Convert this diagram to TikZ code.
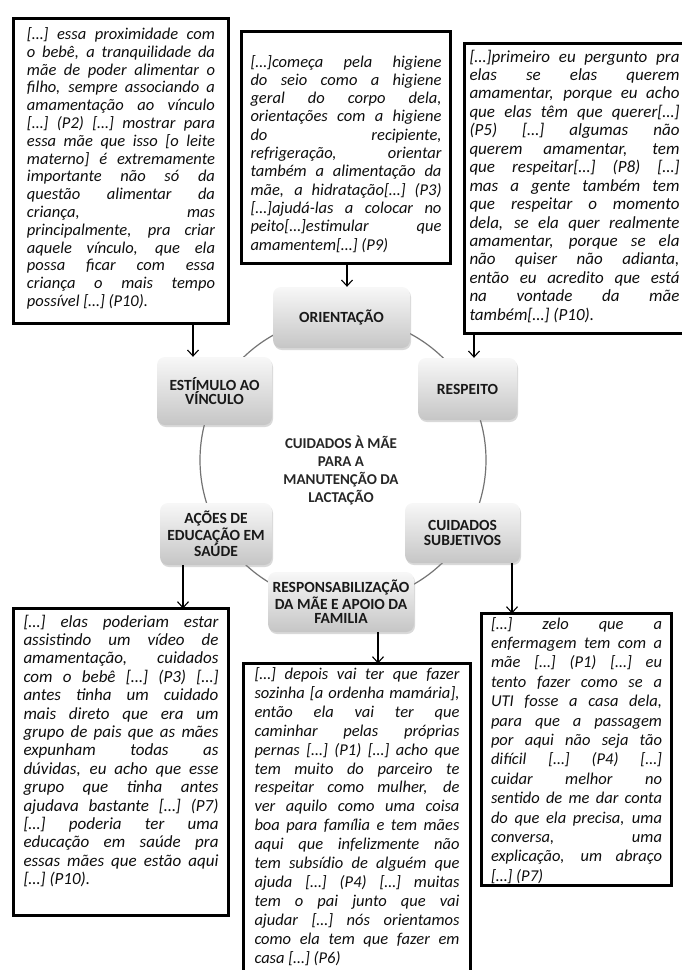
\documentclass[tikz,border=0pt]{standalone}
\usepackage{fontspec}
\setmainfont{Carlito}
\usetikzlibrary{arrows,arrows.meta,shadows,calc}
\tolerance=10000
\hbadness=10000

\newcommand{\qsize}[2]{\itshape\fontsize{#1}{#2}\selectfont}
\newcommand{\qbr}{\linebreak\relax}

\tikzset{
  quote/.style={draw, line width=3pt, outer sep=0pt, inner ysep=0pt, anchor=north west, align=justify, text=black!95},
  topic/.style={rounded corners=8pt, top color=gray!6, bottom color=gray!45,
    drop shadow={shadow xshift=1pt,shadow yshift=-2pt,opacity=0.3},
    align=center, inner sep=2pt, text=black!90, font=\bfseries\fontsize{15.5}{14.5}\selectfont},
  arr/.style={-{Straight Barb[length=6pt,width=11pt]}, line width=1.1pt},
  ring/.style={black!55, line width=1.2pt}
}

\begin{document}
\begin{tikzpicture}[x=1pt,y=-1pt]
\useasboundingbox (0,0) rectangle (681,970);

\draw[ring] (343,460) circle [radius=143pt];

\node[topic, minimum width=137pt, minimum height=61pt] (ori) at (341.5,317.5) {ORIENTAÇÃO};
\node[topic, minimum width=99pt, minimum height=62pt] (res) at (467.5,389) {RESPEITO};
\node[topic, minimum width=115pt, minimum height=68pt] (est) at (214.5,391) {ESTÍMULO AO\\VÍNCULO};
\node[topic, minimum width=112pt, minimum height=62pt] (acoes) at (216,534) {AÇÕES DE\\EDUCAÇÃO EM\\SAÚDE};
\node[topic, minimum width=115pt, minimum height=60pt] (cui) at (462.5,533) {CUIDADOS\\SUBJETIVOS};
\node[topic, minimum width=146pt, minimum height=60pt] (resp) at (341,602) {RESPONSABILIZAÇÃO\\DA MÃE E APOIO DA\\FAMILIA};
\node[align=center, text=black!85, font=\bfseries\fontsize{15}{18}\selectfont] (mid) at (341,470)
  {CUIDADOS À MÃE\\PARA A\\MANUTENÇÃO DA\\LACTAÇÃO};

\node[quote, text width=188pt, inner xsep=13.5pt, text height=21pt, text depth=284pt, font=\qsize{16.5}{17.8}] (q1) at (13.5,18.5)
  {[…] essa proximidade com\qbr
   o bebê, a tranquilidade da\qbr
   mãe de poder alimentar o\qbr
   filho, sempre associando a\qbr
   amamentação ao vínculo\qbr
   […] (P2) […] mostrar para\qbr
   essa mãe que isso [o leite\qbr
   materno] é extremamente\qbr
   importante não só da\qbr
   questão alimentar da\qbr
   criança, mas\qbr
   principalmente, pra criar\qbr
   aquele vínculo, que ela\qbr
   possa ficar com essa\qbr
   criança o mais tempo\qbr
   possível […] (P10).};

\node[quote, text width=191pt, inner xsep=9pt, text height=35.5pt, text depth=196.5pt, font=\qsize{16.5}{18.3}] (q2) at (241.5,31.5)
  {[…]começa pela higiene\qbr
   do seio como a higiene\qbr
   geral do corpo dela,\qbr
   orientações com a higiene\qbr
   do recipiente,\qbr
   refrigeração, orientar\qbr
   também a alimentação da\qbr
   mãe, a hidratação[…] (P3)\qbr
   […]ajudá-las a colocar no\qbr
   peito[…]estimular que\qbr
   amamentem[…] (P9)};

\node[quote, text width=210pt, inner xsep=5pt, text height=18.5pt, text depth=271.5pt, font=\qsize{17}{18.45}] (q3) at (464.5,43.5)
  {[…]primeiro eu pergunto pra\qbr
   elas se elas querem\qbr
   amamentar, porque eu acho\qbr
   que elas têm que querer[…]\qbr
   (P5) […] algumas não\qbr
   querem amamentar, tem\qbr
   que respeitar[…] (P8) […]\qbr
   mas a gente também tem\qbr
   que respeitar o momento\qbr
   dela, se ela quer realmente\qbr
   amamentar, porque se ela\qbr
   não quiser não adianta,\qbr
   então eu acredito que está\qbr
   na vontade da mãe\qbr
   também[…] (P10).};

\node[quote, text width=195pt, inner xsep=10pt, text height=18.5pt, text depth=288.5pt, font=\qsize{17}{18.4}] (q4) at (13.5,608.5)
  {[…] elas poderiam estar\qbr
   assistindo um vídeo de\qbr
   amamentação, cuidados\qbr
   com o bebê […] (P3) […]\qbr
   antes tinha um cuidado\qbr
   mais direto que era um\qbr
   grupo de pais que as mães\qbr
   expunham todas as\qbr
   dúvidas, eu acho que esse\qbr
   grupo que tinha antes\qbr
   ajudava bastante […] (P7)\qbr
   […] poderia ter uma\qbr
   educação em saúde pra\qbr
   essas mães que estão aqui\qbr
   […] (P10).};

\node[quote, text width=205pt, inner xsep=11pt, text height=16pt, text depth=299pt, font=\qsize{16.5}{18.9}] (q5) at (243.5,663.5)
  {[…] depois vai ter que fazer\qbr
   sozinha [a ordenha mamária],\qbr
   então ela vai ter que\qbr
   caminhar pelas próprias\qbr
   pernas […] (P1) […] acho que\qbr
   tem muito do parceiro te\qbr
   respeitar como mulher, de\qbr
   ver aquilo como uma coisa\qbr
   boa para família e tem mães\qbr
   aqui que infelizmente não\qbr
   tem subsídio de alguém que\qbr
   ajuda […] (P4) […] muitas\qbr
   tem o pai junto que vai\qbr
   ajudar […] nós orientamos\qbr
   como ela tem que fazer em\qbr
   casa […] (P6)};

\node[quote, text width=171pt, inner xsep=9.5pt, text height=15.5pt, text depth=256.5pt, font=\qsize{16.5}{19.4}] (q6) at (481.5,613.5)
  {[…] zelo que a\qbr
   enfermagem tem com a\qbr
   mãe […] (P1) […] eu\qbr
   tento fazer como se a\qbr
   UTI fosse a casa dela,\qbr
   para que a passagem\qbr
   por aqui não seja tão\qbr
   difícil […] (P4) […]\qbr
   cuidar melhor no\qbr
   sentido de me dar conta\qbr
   do que ela precisa, uma\qbr
   conversa, uma\qbr
   explicação, um abraço\qbr
   […] (P7)};

\draw[arr] ([xshift=-21.5pt]est.north |- q1.south) -- ([xshift=-21.5pt]est.north);
\draw[arr] ([xshift=5.5pt]ori.north |- q2.south) -- ([xshift=5.5pt]ori.north);
\draw[arr] ([xshift=6.5pt]res.north |- q3.south) -- ([xshift=6.5pt]res.north);
\draw[arr] ([xshift=-33pt]acoes.south) -- ([xshift=-33pt]acoes.south |- q4.north);
\draw[arr] ([xshift=37pt]resp.south) -- ([xshift=37pt]resp.south |- q5.north);
\draw[arr] ([xshift=49.5pt]cui.south) -- ([xshift=49.5pt]cui.south |- q6.north);
\end{tikzpicture}
\end{document}
